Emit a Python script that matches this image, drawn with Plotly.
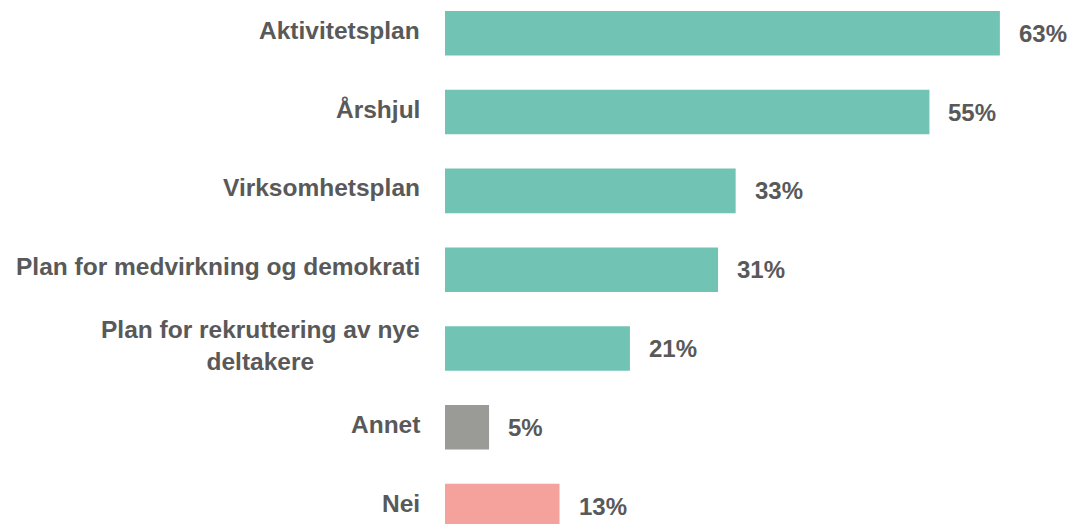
import plotly.graph_objects as go

categories = ["Aktivitetsplan", "Årshjul", "Virksomhetsplan",
              "Plan for medvirkning og demokrati",
              "Plan for rekruttering av nye<br>deltakere", "Annet", "Nei"]
values = [63, 55, 33, 31, 21, 5, 13]
colors = ["#71C4B4", "#71C4B4", "#71C4B4", "#71C4B4", "#71C4B4", "#9A9A96", "#F5A19C"]
value_labels = [f"{v}%" for v in values]

W, H = 1073, 524
FONT = "Liberation Sans, Arial, sans-serif"
TXT = "#595959"

idx = list(range(len(categories)))

fig = go.Figure()
fig.add_trace(go.Bar(
    x=values, y=idx, orientation="h",
    marker=dict(color=colors, line=dict(width=0)),
    width=0.565, hoverinfo="skip",
))

annotations = []
for i, (c, v, t) in enumerate(zip(categories, values, value_labels)):
    annotations.append(dict(
        x=422 / W, xref="paper", y=i, yref="y", text=f"<b>{c}</b>",
        xanchor="right", yanchor="middle", align="center", showarrow=False,
        yshift=3, font=dict(family=FONT, size=24.5, color=TXT),
    ))
    annotations.append(dict(
        x=v, xref="x", y=i, yref="y", text=f"<b>{t}</b>",
        xanchor="left", yanchor="middle", showarrow=False, xshift=17,
        font=dict(family=FONT, size=24, color=TXT),
    ))

fig.update_layout(
    width=W, height=H,
    margin=dict(l=0, r=0, t=0, b=0),
    paper_bgcolor="white", plot_bgcolor="white",
    showlegend=False,
    xaxis=dict(domain=[445 / W, 1], range=[0, 71.3], visible=False, fixedrange=True),
    yaxis=dict(range=[6.228, -0.4226], visible=False, fixedrange=True),
    annotations=annotations,
)

fig.write_html(
    "out.html",
    config={"displayModeBar": False},
    post_script="document.body.style.margin='0';document.body.style.overflow='hidden';",
)
